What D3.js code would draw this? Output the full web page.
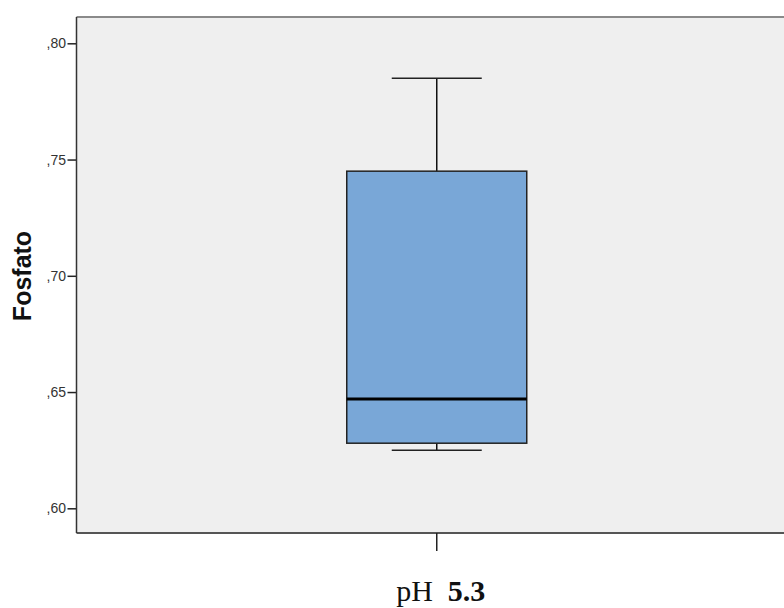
<!DOCTYPE html>
<html>
<head>
<meta charset="utf-8">
<script src="https://cdn.jsdelivr.net/npm/d3@7"></script>
<style>
  body { margin: 0; background: #fff; }
  svg { display: block; }
</style>
</head>
<body>
<div class="chart"></div>
<script>
// boxplot stats
const groups = ["pH 5.3"]
const whiskerLow = [0.625]
const q1 = [0.628]
const median = [0.647]
const q3 = [0.745]
const whiskerHigh = [0.785]
const yTicks = [0.60, 0.65, 0.70, 0.75, 0.80]

const width = 784, height = 608
const plot = {left: 76.5, top: 17, right: 797, bottom: 533}

const svg = d3.select("div.chart").append("svg")
    .attr("width", width)
    .attr("height", height)

const y = d3.scaleLinear()
    .domain([0.60, 0.80])
    .range([508.3, 43.3])

const x = d3.scaleBand()
    .domain(groups)
    .range([plot.left, plot.right])

// plot background
svg.append("rect")
    .attr("x", plot.left)
    .attr("y", plot.top)
    .attr("width", plot.right - plot.left)
    .attr("height", plot.bottom - plot.top)
    .attr("fill", "#efefef")

svg.append("line")
    .attr("x1", plot.left).attr("x2", plot.right)
    .attr("y1", plot.top).attr("y2", plot.top)
    .attr("stroke", "#8a8a8a").attr("stroke-width", 2)

svg.append("line")
    .attr("x1", plot.left).attr("x2", plot.right)
    .attr("y1", plot.bottom).attr("y2", plot.bottom)
    .attr("stroke", "#555").attr("stroke-width", 2)

// y axis
const yAxis = d3.axisLeft(y)
    .tickValues(yTicks)
    .tickSize(9)
    .tickPadding(1.5)
    .tickFormat(d => d3.format(".2f")(d).replace("0.", ","))

const yg = svg.append("g")
    .attr("transform", `translate(${plot.left},0)`)
    .call(yAxis)
    .attr("font-family", "Arial, 'Liberation Sans', sans-serif")
    .attr("font-size", 14)
yg.select(".domain").remove()
yg.selectAll(".tick line").attr("stroke", "#222").attr("stroke-width", 1.5)
yg.selectAll(".tick text").attr("fill", "#333")

svg.append("line")
    .attr("x1", plot.left).attr("x2", plot.left)
    .attr("y1", plot.top).attr("y2", plot.bottom)
    .attr("stroke", "#333").attr("stroke-width", 1.5)

svg.append("text")
    .attr("transform", `translate(30.5,276) rotate(-90)`)
    .attr("text-anchor", "middle")
    .attr("font-family", "Arial, 'Liberation Sans', sans-serif")
    .attr("font-weight", "bold")
    .attr("font-size", 25)
    .attr("fill", "#111")
    .text("Fosfato")

// x axis tick + label
const cx = x(groups[0]) + x.bandwidth() / 2
svg.append("line")
    .attr("x1", cx).attr("x2", cx)
    .attr("y1", plot.bottom).attr("y2", plot.bottom + 18)
    .attr("stroke", "#222").attr("stroke-width", 1.5)

const lbl = svg.append("text")
    .attr("x", cx + 4)
    .attr("y", 601)
    .attr("text-anchor", "middle")
    .attr("font-family", "'Times New Roman', 'Liberation Serif', serif")
    .attr("font-size", 30)
    .attr("fill", "#111")
lbl.append("tspan").text("pH\u00a0 ")
lbl.append("tspan").attr("font-weight", "bold").text("5.3")

// box
const boxW = 180
const i = 0
svg.append("line")
    .attr("x1", cx).attr("x2", cx)
    .attr("y1", y(whiskerHigh[i])).attr("y2", y(q3[i]))
    .attr("stroke", "#111").attr("stroke-width", 1.5)
svg.append("line")
    .attr("x1", cx).attr("x2", cx)
    .attr("y1", y(q1[i])).attr("y2", y(whiskerLow[i]))
    .attr("stroke", "#111").attr("stroke-width", 1.5)
svg.selectAll(".cap")
    .data([whiskerHigh[i], whiskerLow[i]])
    .enter().append("line")
    .attr("x1", cx - boxW / 4).attr("x2", cx + boxW / 4)
    .attr("y1", d => y(d)).attr("y2", d => y(d))
    .attr("stroke", "#222").attr("stroke-width", 1.5)

svg.append("rect")
    .attr("x", cx - boxW / 2)
    .attr("y", y(q3[i]))
    .attr("width", boxW)
    .attr("height", y(q1[i]) - y(q3[i]))
    .attr("fill", "#79a7d7")
    .attr("stroke", "#222")
    .attr("stroke-width", 1.5)

svg.append("line")
    .attr("x1", cx - boxW / 2).attr("x2", cx + boxW / 2)
    .attr("y1", y(median[i])).attr("y2", y(median[i]))
    .attr("stroke", "#000").attr("stroke-width", 3)
</script>
</body>
</html>
